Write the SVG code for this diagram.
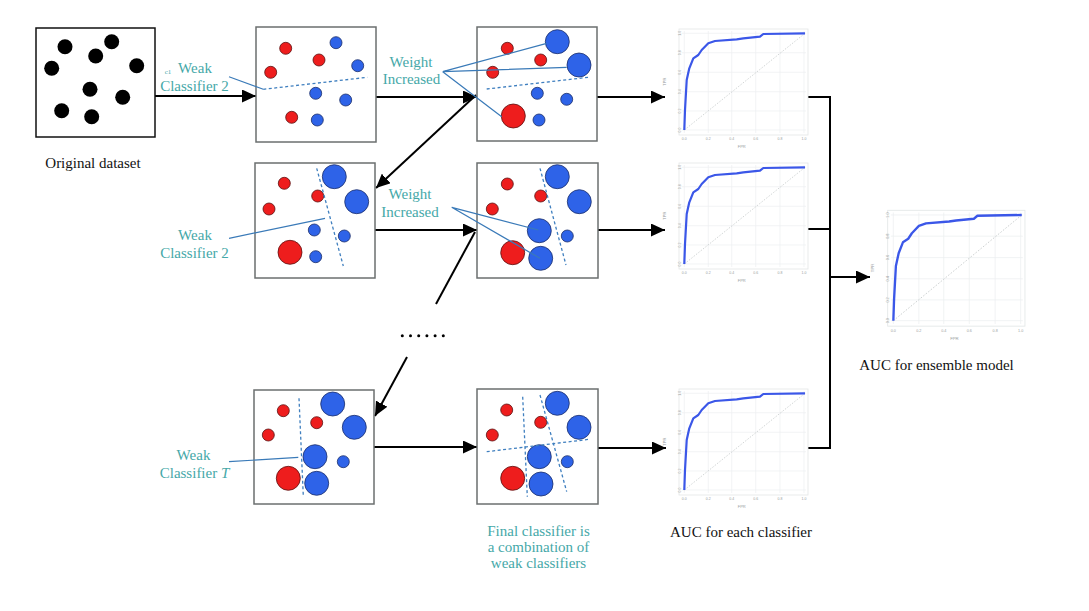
<svg xmlns="http://www.w3.org/2000/svg" xmlns:xlink="http://www.w3.org/1999/xlink" width="1089" height="611" viewBox="0 0 1089 611">
<style>
.box{fill:#fff;stroke:#6b6f6f;stroke-width:1.5}
.obox{fill:#fff;stroke:#111;stroke-width:1.5}
.k{fill:#000}
.r{fill:#ee1d1d;stroke:#5a1010;stroke-width:0.8}
.b{fill:#2e63e8;stroke:#1a2d6a;stroke-width:0.8}
.dash{stroke:#3f7fbf;stroke-width:1.3;stroke-dasharray:3 2.5;fill:none}
.ptr{stroke:#3a7ab8;stroke-width:1.2;fill:none}
.lbl{font-family:"Liberation Serif",serif;font-size:15px;fill:#45a8a8;text-anchor:middle}
.cap{font-family:"Liberation Serif",serif;font-size:15px;fill:#111;text-anchor:middle}
.conn{stroke:#000;stroke-width:2;fill:none}
.grid{stroke:#eceff0;stroke-width:0.7}
.tick{font-family:"Liberation Sans",sans-serif;font-size:3.5px;fill:#9aa0a0;text-anchor:middle}
</style>
<defs>
<marker id="ah" markerUnits="userSpaceOnUse" markerWidth="15" markerHeight="13" refX="14" refY="6.5" orient="auto">
<path d="M0,0 L14,6.5 L0,13 z" fill="#000"/>
</marker>
<g id="roc">
<rect x="0" y="0" width="129" height="106" fill="#fff" stroke="#e3e7e7" stroke-width="0.8"/>
<path class="grid" d="M5.3,2V104M29.3,2V104M52.7,2V104M76.7,2V104M101,2V104M125,2V104M3,4.3H127M3,23.7H127M3,43.3H127M3,62.7H127M3,82H127M3,101H127"/>
<line x1="5.3" y1="101" x2="126" y2="4.3" stroke="#c5caca" stroke-width="0.8" stroke-dasharray="1.5 1.5"/>
<polyline points="5.3,101 6,81 7.7,51 10.3,39.3 14.3,29.3 19.3,26 22.7,21 29.3,14.3 36,12 57.7,10.3 64.3,9.3 81,7.7 84.3,5 126,4.3" fill="none" stroke="#3b57e8" stroke-width="2.2" stroke-linejoin="round"/>
<text class="tick" x="5.3" y="111">0.0</text>
<text class="tick" x="29.3" y="111">0.2</text>
<text class="tick" x="52.7" y="111">0.4</text>
<text class="tick" x="76.7" y="111">0.6</text>
<text class="tick" x="101" y="111">0.8</text>
<text class="tick" x="125" y="111">1.0</text>
<text class="tick" transform="translate(1.5,101) rotate(-90)">0.0</text>
<text class="tick" transform="translate(1.5,82) rotate(-90)">0.2</text>
<text class="tick" transform="translate(1.5,62.7) rotate(-90)">0.4</text>
<text class="tick" transform="translate(1.5,43.3) rotate(-90)">0.6</text>
<text class="tick" transform="translate(1.5,23.7) rotate(-90)">0.8</text>
<text class="tick" transform="translate(1.5,4.3) rotate(-90)">1.0</text>
<text class="tick" x="62.7" y="119" style="font-size:4px">FPR</text>
<text class="tick" transform="translate(-13,52.7) rotate(-90)" style="font-size:4px">TPR</text>
</g>
</defs>

<g id="connectors">
<line class="conn" x1="155" y1="96" x2="256" y2="96" marker-end="url(#ah)"/>
<line class="conn" x1="376" y1="97" x2="477" y2="97" marker-end="url(#ah)"/>
<line class="conn" x1="476" y1="95" x2="376" y2="188" marker-end="url(#ah)"/>
<line class="conn" x1="375" y1="230" x2="477" y2="230" marker-end="url(#ah)"/>
<line class="conn" x1="436" y1="304" x2="475" y2="232"/>
<line class="conn" x1="407" y1="357" x2="375" y2="416" marker-end="url(#ah)"/>
<line class="conn" x1="374" y1="447" x2="477" y2="447" marker-end="url(#ah)"/>
<line class="conn" x1="597" y1="97" x2="665" y2="97" marker-end="url(#ah)"/>
<line class="conn" x1="598" y1="230" x2="665" y2="230" marker-end="url(#ah)"/>
<line class="conn" x1="598" y1="448" x2="666" y2="448" marker-end="url(#ah)"/>
<polyline class="conn" points="808,97 830,97 830,448 808,448"/>
<line class="conn" x1="808" y1="229" x2="830" y2="229"/>
<line class="conn" x1="830" y1="277" x2="870" y2="277" marker-end="url(#ah)"/>
</g>

<g id="original">
<rect class="obox" x="36" y="28" width="119" height="109"/>
<circle class="k" cx="65" cy="46.7" r="7.5"/>
<circle class="k" cx="111.7" cy="41.7" r="7.5"/>
<circle class="k" cx="95.7" cy="56" r="7.5"/>
<circle class="k" cx="51.7" cy="68.3" r="7.5"/>
<circle class="k" cx="136.7" cy="65.7" r="7.5"/>
<circle class="k" cx="90" cy="89.3" r="7.5"/>
<circle class="k" cx="122.7" cy="97.3" r="7.5"/>
<circle class="k" cx="61.7" cy="110.7" r="7.5"/>
<circle class="k" cx="91.7" cy="116.7" r="7.5"/>
<text class="cap" x="93" y="167.5">Original dataset</text>
</g>

<g id="r1c1">
<rect class="box" x="256" y="27" width="120" height="115"/>
<circle class="r" cx="285.7" cy="48.3" r="6"/>
<circle class="r" cx="319" cy="60" r="6"/>
<circle class="r" cx="270.7" cy="72.3" r="6"/>
<circle class="b" cx="336" cy="42.7" r="6"/>
<circle class="b" cx="357.7" cy="65.7" r="6"/>
<circle class="b" cx="315.7" cy="93.3" r="6"/>
<circle class="b" cx="345.7" cy="100" r="6"/>
<circle class="r" cx="291.7" cy="117.3" r="6"/>
<circle class="b" cx="317.3" cy="120" r="6"/>
<line class="dash" x1="263.3" y1="89.3" x2="367.3" y2="77.3"/>
<line class="ptr" x1="229" y1="76.7" x2="263.3" y2="89.3"/>
<text class="lbl" x="168" y="74" style="font-size:7px">c1</text>
<text class="lbl" x="195" y="72.5">Weak</text>
<text class="lbl" x="194.5" y="90.5">Classifier 2</text>
</g>

<g id="r1c2">
<rect class="box" x="477" y="27" width="120" height="114"/>
<circle class="r" cx="507.3" cy="48.3" r="6"/>
<circle class="b" cx="557.3" cy="41.7" r="12"/>
<circle class="r" cx="540.7" cy="60" r="6"/>
<circle class="b" cx="579" cy="65" r="12"/>
<circle class="r" cx="492.7" cy="72.3" r="6"/>
<circle class="b" cx="537.3" cy="93.3" r="6"/>
<circle class="b" cx="566.7" cy="99.3" r="6"/>
<circle class="r" cx="513.3" cy="116" r="12"/>
<circle class="b" cx="539" cy="120" r="6"/>
<line class="dash" x1="486.7" y1="89" x2="588.3" y2="77.3"/>
<path class="ptr" d="M442.7,71.7L546.7,43.3M442.7,71.7L566.7,67.3M442.7,71.7L501.7,116.7"/>
<text class="lbl" x="411" y="66.5">Weight</text>
<text class="lbl" x="411.5" y="84">Increased</text>
</g>

<g id="r2c1">
<rect class="box" x="255" y="163" width="120" height="115"/>
<circle class="r" cx="284.3" cy="183.3" r="6"/>
<circle class="r" cx="317.7" cy="196" r="6"/>
<circle class="r" cx="269" cy="209" r="6"/>
<circle class="b" cx="334.3" cy="176.7" r="12"/>
<circle class="b" cx="356.7" cy="201.7" r="12"/>
<circle class="b" cx="314.3" cy="230" r="6"/>
<circle class="b" cx="344.3" cy="236" r="6"/>
<circle class="r" cx="290" cy="252.3" r="12"/>
<circle class="b" cx="315.7" cy="256.7" r="6"/>
<line class="dash" x1="316.7" y1="168.3" x2="343.3" y2="266"/>
<line class="ptr" x1="229" y1="238.3" x2="325" y2="218.3"/>
<text class="lbl" x="195" y="240">Weak</text>
<text class="lbl" x="194.5" y="257.5">Classifier 2</text>
</g>

<g id="r2c2">
<rect class="box" x="477" y="163" width="121" height="115"/>
<circle class="r" cx="507.3" cy="184" r="6"/>
<circle class="r" cx="540.7" cy="196" r="6"/>
<circle class="r" cx="492.3" cy="209" r="6"/>
<circle class="b" cx="557.3" cy="176.7" r="12"/>
<circle class="b" cx="579.3" cy="201.7" r="12"/>
<circle class="b" cx="539.3" cy="230.7" r="12"/>
<circle class="b" cx="567.3" cy="236" r="6"/>
<circle class="r" cx="512.7" cy="252.7" r="12"/>
<circle class="b" cx="540.7" cy="258.3" r="12"/>
<line class="dash" x1="540" y1="168.3" x2="566" y2="265"/>
<path class="ptr" d="M451.7,207.3L538.3,230M451.7,207.3L540,258.3"/>
<text class="lbl" x="410" y="199">Weight</text>
<text class="lbl" x="410" y="216.5">Increased</text>
</g>

<g id="ellipsis">
<circle cx="402.3" cy="335.7" r="1.5"/>
<circle cx="410.5" cy="335.7" r="1.5"/>
<circle cx="418.7" cy="335.7" r="1.5"/>
<circle cx="426.9" cy="335.7" r="1.5"/>
<circle cx="435.1" cy="335.7" r="1.5"/>
<circle cx="443.3" cy="335.7" r="1.5"/>
</g>

<g id="r3c1">
<rect class="box" x="254" y="390" width="120" height="114"/>
<circle class="r" cx="283.3" cy="410.7" r="6"/>
<circle class="r" cx="316.7" cy="422.7" r="6"/>
<circle class="r" cx="268.3" cy="435" r="6"/>
<circle class="b" cx="332.7" cy="404" r="12"/>
<circle class="b" cx="354.3" cy="427.3" r="12"/>
<circle class="b" cx="315" cy="456.7" r="12"/>
<circle class="b" cx="343.3" cy="461.7" r="6"/>
<circle class="r" cx="288.3" cy="478.3" r="12"/>
<circle class="b" cx="316.7" cy="483.3" r="12"/>
<line class="dash" x1="299" y1="398.3" x2="303.3" y2="496"/>
<line class="ptr" x1="229" y1="461.7" x2="298.3" y2="457.3"/>
<text class="lbl" x="193.5" y="460">Weak</text>
<text class="lbl" x="194.5" y="477.5">Classifier <tspan font-style="italic">T</tspan></text>
</g>

<g id="r3c2">
<rect class="box" x="477" y="389" width="121" height="115"/>
<circle class="r" cx="506.7" cy="410" r="6"/>
<circle class="r" cx="540.7" cy="422.3" r="6"/>
<circle class="r" cx="492.3" cy="435" r="6"/>
<circle class="b" cx="557.3" cy="403.3" r="12"/>
<circle class="b" cx="579" cy="427.3" r="12"/>
<circle class="b" cx="539.3" cy="456.7" r="12"/>
<circle class="b" cx="567.3" cy="461.7" r="6"/>
<circle class="r" cx="512.7" cy="478.3" r="12"/>
<circle class="b" cx="541" cy="484" r="12"/>
<line class="dash" x1="522.7" y1="396.7" x2="527.3" y2="496.7"/>
<line class="dash" x1="540" y1="395" x2="566.7" y2="491.7"/>
<line class="dash" x1="486.7" y1="451.7" x2="589.3" y2="439.3"/>
<text class="lbl" x="538.5" y="536">Final classifier is</text>
<text class="lbl" x="538.5" y="552">a combination of</text>
<text class="lbl" x="538.5" y="568">weak classifiers</text>
</g>

<g id="auc1"><use xlink:href="#roc" transform="translate(679,29)"/></g>
<g id="auc2"><use xlink:href="#roc" transform="translate(679,163)"/></g>
<g id="auc3">
<use xlink:href="#roc" transform="translate(679,389)"/>
<text class="cap" x="741" y="537">AUC for each classifier</text>
</g>
<g id="auc-ensemble">
<use xlink:href="#roc" transform="translate(887.7,210.3) scale(1.064,1.093)"/>
<text class="cap" x="936.5" y="370">AUC for ensemble model</text>
</g>
</svg>
